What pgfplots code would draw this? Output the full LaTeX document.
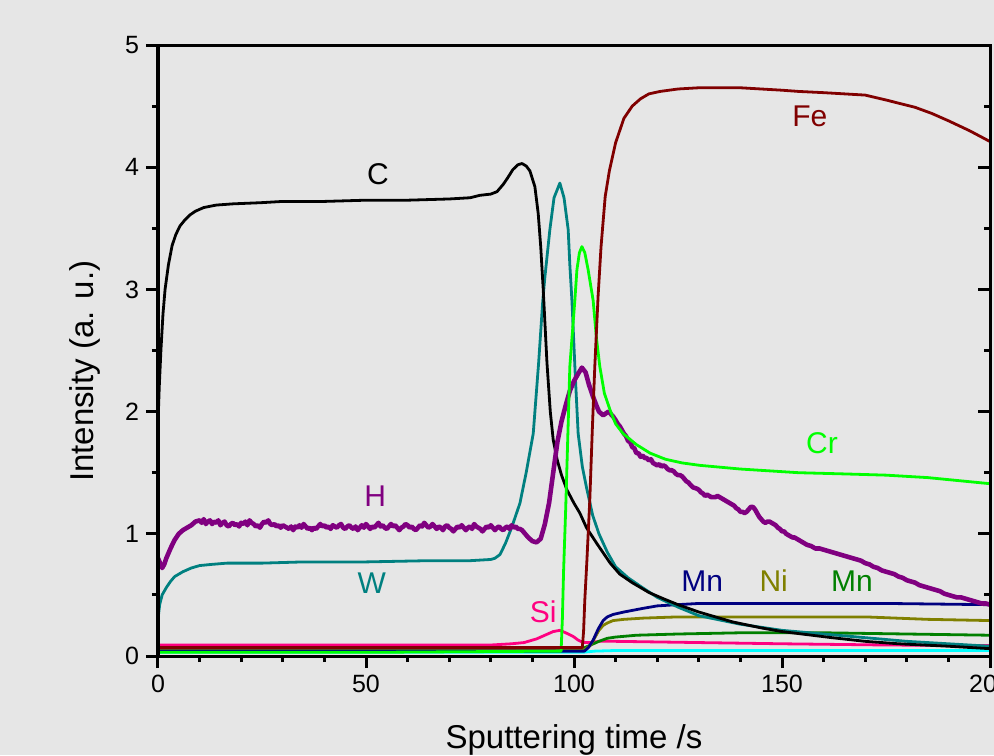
\documentclass[border=0pt]{standalone}
\usepackage{fontspec}
\setmainfont{Liberation Sans}
\usepackage{pgfplots}
\pgfplotsset{compat=1.18}
\definecolor{bg}{RGB}{230,230,230}
\definecolor{cW}{RGB}{0,128,128}
\definecolor{cH}{RGB}{128,0,128}
\definecolor{cCr}{RGB}{0,255,0}
\definecolor{cFe}{RGB}{128,0,0}
\definecolor{cSi}{RGB}{255,0,128}
\definecolor{cMn}{RGB}{0,0,128}
\definecolor{cNi}{RGB}{128,128,0}
\definecolor{cMnb}{RGB}{0,128,0}
\definecolor{cCy}{RGB}{0,255,255}
\begin{document}
\begin{tikzpicture}
\path[use as bounding box] (-79pt,-49.5pt) rectangle (418pt,328pt);
\clip (-79pt,-49.5pt) rectangle (418pt,328pt);
\fill[bg] (-79pt,-49.5pt) rectangle (418pt,328pt);
\pgfplotsset{every axis/.append style={
  scale only axis, width=416pt, height=305.5pt,
  xmin=0, xmax=200, ymin=0, ymax=5,
  axis line style={line width=1.5pt},
  every tick/.style={line width=1.5pt, black},
  major tick length=6pt, minor tick length=3pt,
  /pgf/number format/assume math mode=true,
  tick label style={font=\fontsize{12.5pt}{14pt}\selectfont},
}}
\begin{axis}[
  xtick={0,50,100,150,200}, ytick={0,1,2,3,4,5},
  minor x tick num=4, minor y tick num=1,
  xtick pos=bottom, ytick pos=left, tick align=outside,
  xlabel={Sputtering time /s}, ylabel={Intensity (a. u.)},
  label style={font=\fontsize{16.5pt}{18pt}\selectfont},
  xlabel style={at={(axis description cs:0.5,-0.152)}, anchor=base},
  ylabel style={at={(axis description cs:-0.0877,0.466)}, anchor=center, rotate=0},
  every axis plot/.append style={line width=1.4pt, line join=round},
]
% cyan
\addplot[cCy] coordinates {(0,0.03)(50,0.03)(100,0.03)(102,0.03)(105,0.04)(110,0.045)(150,0.045)(200,0.045)};
% Si
\addplot[cSi] coordinates {(0,0.09)(20,0.09)(50,0.09)(80,0.09)(85,0.1)(88,0.11)(91,0.14)(93,0.17)(95,0.2)(96.6,0.21)(98,0.19)(99.8,0.16)(101,0.13)(102.2,0.11)(104,0.11)(106,0.12)(110,0.12)(120,0.115)(130,0.11)(150,0.1)(175,0.09)(200,0.085)};
% Mn green
\addplot[cMnb] coordinates {(0,0.06)(50,0.06)(100,0.06)(102,0.06)(104,0.09)(106,0.12)(108,0.145)(110,0.155)(115,0.17)(125,0.18)(140,0.19)(160,0.19)(180,0.18)(200,0.17)};
% Ni
\addplot[cNi] coordinates {(0,0.05)(50,0.05)(100,0.05)(102.5,0.05)(104,0.09)(105,0.15)(106,0.21)(107,0.25)(108,0.27)(109.4,0.29)(112,0.3)(116.6,0.31)(125,0.32)(150,0.32)(170,0.32)(185,0.3)(200,0.29)};
% Mn navy
\addplot[cMn] coordinates {(0,0.04)(50,0.04)(100,0.04)(102.5,0.04)(103.5,0.07)(104.6,0.13)(105.8,0.22)(107,0.29)(108,0.32)(109.4,0.34)(112,0.36)(116.6,0.39)(120,0.41)(124.7,0.42)(130,0.43)(150,0.43)(175,0.43)(200,0.42)};
% W
\addplot[cW] coordinates {(0,0.3)(0.4,0.42)(1,0.5)(2,0.56)(3,0.61)(4,0.65)(6,0.69)(8,0.72)(10,0.74)(13,0.75)(16.6,0.76)(25,0.76)(35,0.77)(50,0.77)(65,0.78)(75,0.78)(80,0.79)(81,0.8)(82.2,0.83)(83.5,0.92)(85,1.05)(87,1.25)(88.5,1.5)(90.2,1.82)(91.5,2.4)(92.5,2.91)(93,3.1)(94.2,3.49)(95.2,3.75)(96.6,3.87)(97.6,3.75)(98.6,3.49)(99,3.2)(99.5,2.91)(100.3,2.3)(101,1.82)(102,1.55)(103,1.38)(104.5,1.15)(106,1.0)(108,0.85)(110,0.73)(113,0.64)(116,0.57)(120,0.48)(125,0.4)(130,0.33)(140,0.26)(150,0.21)(160,0.18)(170,0.15)(180,0.12)(190,0.1)(200,0.08)};
% C
\addplot[black] coordinates {(0,1.9)(0.3,2.2)(0.7,2.5)(1.2,2.8)(1.7,3.0)(2.5,3.2)(3.4,3.36)(4.3,3.45)(5.3,3.52)(6.5,3.57)(7.7,3.61)(9,3.64)(11,3.67)(14,3.69)(18,3.70)(25,3.71)(30,3.72)(40,3.72)(50,3.73)(60,3.73)(70,3.74)(75,3.75)(77.4,3.77)(80,3.78)(81.5,3.8)(83,3.86)(84,3.91)(85.3,3.98)(86.5,4.02)(87.5,4.03)(88.5,4.01)(89.4,3.97)(90.6,3.84)(91.4,3.62)(92,3.35)(92.6,3.0)(93.5,2.4)(94.3,2.0)(95,1.77)(96,1.6)(97,1.48)(98.3,1.36)(100,1.25)(101.4,1.17)(103,1.05)(105.5,0.92)(108.7,0.76)(111,0.67)(114,0.6)(118,0.52)(121.4,0.47)(125,0.42)(130,0.36)(138,0.28)(145,0.23)(150,0.2)(162,0.15)(170,0.12)(178,0.1)(190,0.08)(200,0.06)};
% H
\addplot[cH, line width=2.3pt] coordinates {(0,0.8)(0.5,0.76)(1,0.72)(1.5,0.75)(2,0.8)(3,0.88)(4,0.95)(5,1.0)(6,1.03)(7,1.05)(8,1.07)(9,1.1)
(10,1.11)(10.5,1.09)(11,1.12)(11.5,1.08)(12,1.10)(12.5,1.11)(13,1.08)(13.5,1.10)(14,1.09)(14.5,1.11)(15,1.07)(15.5,1.09)(16,1.10)(16.5,1.07)(17,1.06)(17.5,1.08)(18,1.09)(18.5,1.07)(19,1.08)(19.5,1.06)
(20,1.09)(20.5,1.08)(21,1.10)(21.5,1.07)(22,1.11)(22.5,1.09)(23,1.08)(23.5,1.06)(24,1.07)(24.5,1.05)(25,1.08)(25.5,1.10)(26,1.09)(26.5,1.11)(27,1.08)(27.5,1.07)(28,1.08)(28.5,1.06)(29,1.07)(29.5,1.05)
(30,1.07)(30.5,1.06)(31,1.05)(31.5,1.04)(32,1.06)(32.5,1.03)(33,1.06)(33.5,1.05)(34,1.07)(34.5,1.05)(35,1.08)(35.5,1.06)(36,1.04)(36.5,1.05)(37,1.03)(37.5,1.05)(38,1.04)(38.5,1.06)(39,1.08)(39.5,1.06)
(40,1.07)(40.5,1.05)(41,1.06)(41.5,1.04)(42,1.07)(42.5,1.06)(43,1.05)(43.5,1.07)(44,1.08)(44.5,1.05)(45,1.04)(45.5,1.06)(46,1.07)(46.5,1.05)(47,1.04)(47.5,1.06)(48,1.03)(48.5,1.05)(49,1.07)(49.5,1.05)
(50,1.08)(50.5,1.06)(51,1.04)(51.5,1.06)(52,1.05)(52.5,1.07)(53,1.09)(53.5,1.06)(54,1.07)(54.5,1.05)(55,1.04)(55.5,1.06)(56,1.08)(56.5,1.06)(57,1.07)(57.5,1.05)(58,1.03)(58.5,1.05)(59,1.06)(59.5,1.08)
(60,1.07)(60.5,1.05)(61,1.06)(61.5,1.04)(62,1.03)(62.5,1.05)(63,1.07)(63.5,1.06)(64,1.09)(64.5,1.07)(65,1.05)(65.5,1.06)(66,1.08)(66.5,1.06)(67,1.04)(67.5,1.06)(68,1.05)(68.5,1.03)(69,1.06)(69.5,1.07)
(70,1.05)(70.5,1.04)(71,1.02)(71.5,1.04)(72,1.06)(72.5,1.05)(73,1.07)(73.5,1.05)(74,1.03)(74.5,1.05)(75,1.06)(75.5,1.04)(76,1.08)(76.5,1.06)(77,1.05)(77.5,1.04)(78,1.02)(78.5,1.04)(79,1.06)(79.5,1.05)
(80,1.07)(80.5,1.05)(81,1.03)(81.5,1.05)(82,1.06)(82.5,1.04)(83,1.03)(83.5,1.05)(84,1.06)(84.5,1.04)(85,1.07)(85.5,1.05)(86,1.06)(86.5,1.04)(87,1.04)(87.5,1.03)(88,1.01)
(89,0.97)(90,0.94)(91,0.93)(92,0.96)(93,1.08)(94,1.25)(95,1.5)(96,1.75)(97,1.92)(98,2.05)(99,2.17)(100,2.25)(101,2.31)(101.9,2.36)(102.8,2.32)(103.6,2.22)(104.6,2.12)(105.5,2.04)(106,2.0)(107,1.97)(108.3,2.0)(109.4,1.96)(110,1.93)(110.5,1.9)(111,1.88)(111.5,1.85)(112,1.82)(112.5,1.8)(113,1.76)(113.5,1.75)(114,1.71)(114.5,1.7)(115,1.66)(115.5,1.66)(116,1.63)(116.5,1.64)(117,1.62)(117.5,1.62)(118,1.6)(118.5,1.61)(119,1.58)(119.5,1.57)(120,1.56)(120.5,1.57)(121,1.55)(121.5,1.56)(122,1.55)(122.5,1.53)(123,1.52)(123.5,1.52)(124,1.51)(124.5,1.49)(125,1.48)(125.5,1.48)(126,1.47)(126.5,1.45)(127,1.43)(127.5,1.42)(128,1.4)(128.6,1.38)(129.5,1.37)(130,1.36)(130.5,1.34)(131,1.33)(131.5,1.31)(132,1.32)(132.5,1.31)(133,1.3)(134,1.3)(134.5,1.31)(135,1.3)(135.5,1.29)(136,1.28)(136.5,1.27)(137,1.26)(137.5,1.25)(138,1.24)(138.5,1.23)(139,1.21)(139.5,1.2)(140,1.18)(140.5,1.18)(141,1.17)(141.5,1.18)(142,1.2)(142.5,1.22)(143,1.22)(143.5,1.2)(144,1.17)(144.5,1.14)(145,1.12)(145.5,1.1)(146,1.09)(146.5,1.1)(147,1.1)(147.5,1.09)(148,1.08)(148.5,1.07)(149,1.05)(149.5,1.04)(150,1.02)(150.5,1.02)(151,1.0)(151.5,0.99)(152,0.98)(152.6,0.97)(153,0.97)(154,0.95)(154.5,0.94)(155,0.93)(155.5,0.92)(156,0.91)(157,0.9)(158,0.88)(159,0.88)(160,0.87)(161,0.86)(162,0.85)(163,0.84)(164,0.83)(165,0.82)(166,0.81)(167,0.8)(168,0.79)(169,0.78)(170,0.76)(171,0.75)(172,0.73)(173,0.72)(174,0.7)(175,0.69)(176,0.68)(177,0.67)(178,0.65)(179,0.64)(180,0.62)(181,0.61)(182,0.6)(183,0.58)(184,0.57)(185,0.56)(186,0.55)(187,0.54)(188,0.53)(189,0.51)(190,0.5)(191,0.49)(192,0.48)(193,0.48)(194,0.47)(195,0.46)(196,0.45)(197,0.44)(198,0.43)(199,0.43)(200,0.42)};
% Cr
\addplot[cCr] coordinates {(0,0.03)(50,0.03)(96.9,0.04)(97.2,0.3)(97.5,0.7)(98,1.2)(98.3,1.55)(99,2.37)(100.2,2.91)(100.7,3.16)(101.3,3.3)(101.9,3.35)(102.6,3.3)(103.4,3.16)(104.6,2.91)(105.4,2.6)(106.2,2.37)(107.3,2.15)(108.7,2.01)(110,1.9)(111.8,1.82)(115,1.73)(118.3,1.66)(122,1.61)(126,1.58)(130.3,1.56)(140,1.53)(154,1.5)(165,1.49)(175,1.48)(185,1.46)(200,1.41)};
% Fe
\addplot[cFe] coordinates {(0,0.07)(50,0.07)(100,0.07)(102,0.07)(102.3,0.2)(102.6,0.46)(103.1,0.78)(103.8,1.28)(104.4,1.85)(105,2.37)(105.8,2.95)(106.5,3.35)(107.5,3.76)(108.5,3.97)(110,4.2)(111,4.3)(112,4.4)(114,4.5)(116,4.56)(118,4.6)(120.7,4.62)(125,4.64)(130,4.65)(135,4.65)(140,4.65)(145,4.64)(150,4.63)(154,4.62)(160,4.61)(165,4.6)(170,4.59)(175,4.55)(182,4.49)(186,4.44)(190,4.38)(195,4.3)(200,4.21)};
\begin{scope}[font=\fontsize{15pt}{17pt}\selectfont]
\node[black] at (axis cs:52.9,3.94) {C};
\node[cFe] at (axis cs:156.7,4.42) {Fe};
\node[cCr] at (axis cs:159.6,1.74) {Cr};
\node[cH] at (axis cs:52.2,1.31) {H};
\node[cW] at (axis cs:51.4,0.6) {W};
\node[cSi] at (axis cs:92.6,0.36) {Si};
\node[cMn] at (axis cs:130.8,0.61) {Mn};
\node[cNi] at (axis cs:148,0.62) {Ni};
\node[cMnb] at (axis cs:166.8,0.61) {Mn};
\end{scope}
\end{axis}
\begin{axis}[
  xtick=\empty, ytick={0,1,2,3,4,5}, minor y tick num=1,
  ytick pos=right, tick align=inside, yticklabels={},
]
\end{axis}
\end{tikzpicture}
\end{document}
